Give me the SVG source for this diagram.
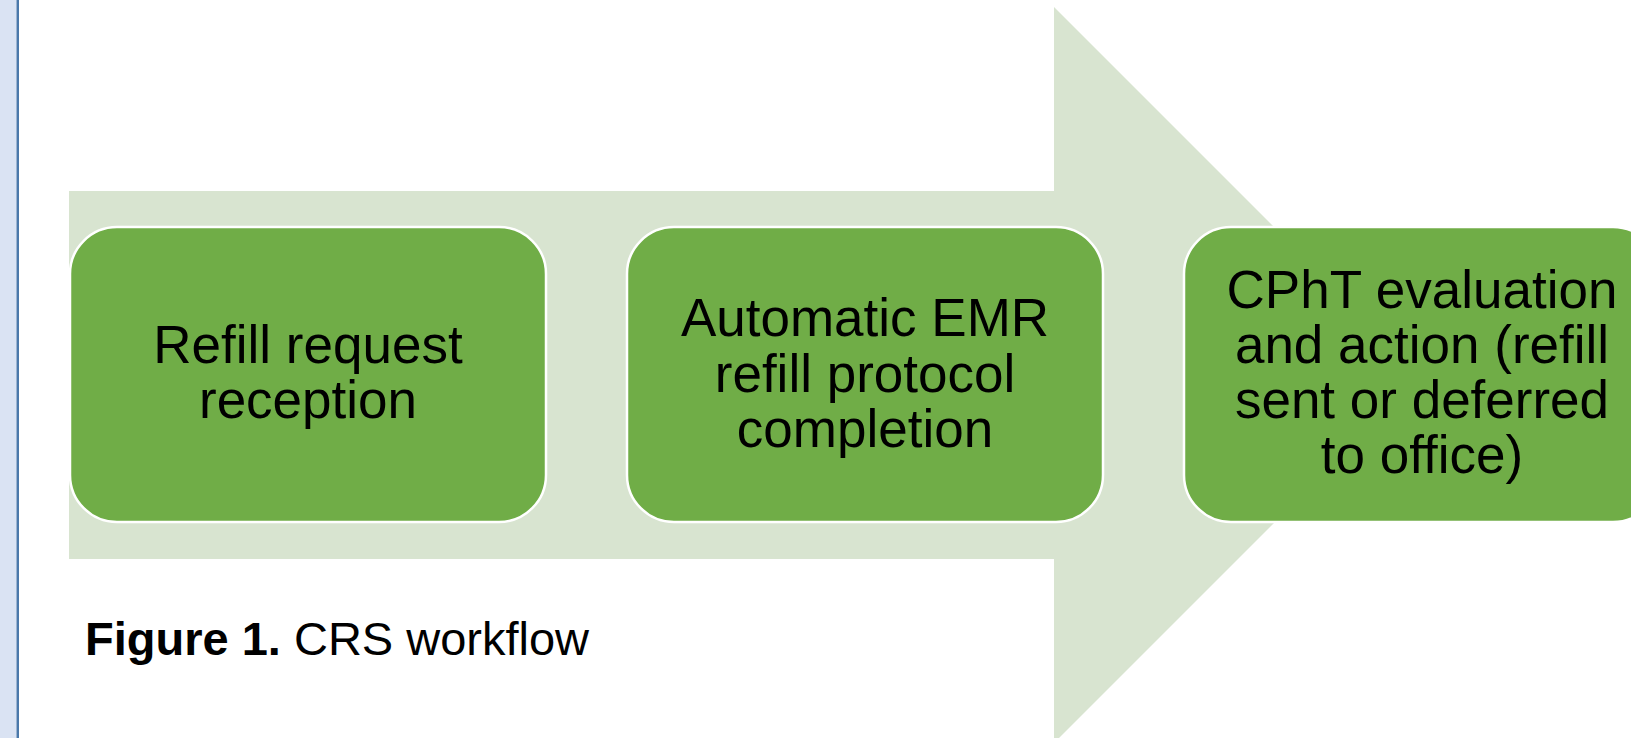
<svg xmlns="http://www.w3.org/2000/svg" width="1631" height="738" viewBox="0 0 1631 738">
  <style>
    .box { fill: #70AD47; stroke: #FFFFFF; stroke-width: 2.5; }
    .lbl { font-family: "Liberation Sans", Arial, sans-serif; font-size: 53px; fill: #000000; text-anchor: middle; }
    .cap { font-family: "Liberation Sans", Arial, sans-serif; font-size: 47px; fill: #000000; }
  </style>
  <rect x="0" y="0" width="1631" height="738" fill="#FFFFFF"/>
  <g id="margin">
    <rect x="0" y="0" width="16.5" height="738" fill="#DAE3F3"/>
    <rect x="16.5" y="0" width="2.5" height="738" fill="#4A78AA"/>
  </g>
  <g id="connectors">
    <polygon id="big-arrow" points="69,191 1054,191 1054,7 1422,375 1054,743 1054,559 69,559" fill="#D8E4D0"/>
  </g>
  <g id="node1">
    <rect class="box" x="70" y="227" width="476" height="295" rx="47" ry="47"/>
    <text class="lbl" x="308" y="363">Refill request</text>
    <text class="lbl" x="308" y="418">reception</text>
  </g>
  <g id="node2">
    <rect class="box" x="627" y="227" width="476" height="295" rx="47" ry="47"/>
    <text class="lbl" x="865" y="336">Automatic EMR</text>
    <text class="lbl" x="865" y="392">refill protocol</text>
    <text class="lbl" x="865" y="447">completion</text>
  </g>
  <g id="node3">
    <rect class="box" x="1184" y="227" width="476" height="295" rx="47" ry="47"/>
    <text class="lbl" x="1422" y="308">CPhT evaluation</text>
    <text class="lbl" x="1422" y="363">and action (refill</text>
    <text class="lbl" x="1422" y="418">sent or deferred</text>
    <text class="lbl" x="1422" y="473">to office)</text>
  </g>
  <g id="caption">
    <text class="cap" x="85" y="655"><tspan font-weight="bold">Figure 1.</tspan> CRS workflow</text>
  </g>
</svg>
